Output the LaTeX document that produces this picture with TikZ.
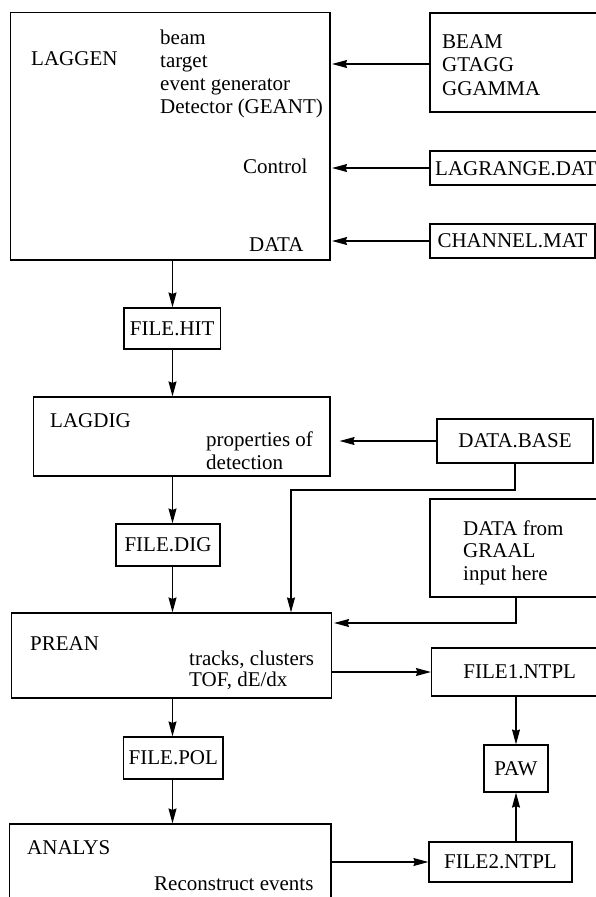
\documentclass[tikz,border=0pt]{standalone}
\usepackage{fontspec}
\setmainfont{Liberation Serif}
\usetikzlibrary{arrows.meta}
\begin{document}
\begin{tikzpicture}[x=1pt,y=-1pt,
  box/.style={draw, line width=1.2pt, inner sep=0pt, font=\fontsize{21}{23}\selectfont},
  lbl/.style={anchor=base west, inner sep=0pt, font=\fontsize{21}{23}\selectfont},
  arr/.style={line width=1.2pt, -{Stealth[length=15pt,width=8pt,inset=1.5pt]}}]
\clip (0,0) rectangle (596,897);
% boxes
\node[box, minimum width=319.4pt, minimum height=247.7pt] (laggen) at (170.3,136.15) {};
\node[box, minimum width=210pt, minimum height=99pt] (beambox) at (535,62.5) {};
\node[box, minimum width=210pt, minimum height=34pt] (lagrange) at (535,168) {};
\node[box, minimum width=165pt, minimum height=34pt] (channel) at (512.5,241) {CHANNEL.MAT};
\node[box, minimum width=96.5pt, minimum height=41pt] (filehit) at (172.25,328.5) {FILE.HIT};
\node[box, minimum width=296.5pt, minimum height=79pt] (lagdig) at (181.75,436.5) {};
\node[box, minimum width=156pt, minimum height=44pt] (database) at (515,441) {DATA.BASE};
\node[box, minimum width=104pt, minimum height=42pt] (filedig) at (168,545) {FILE.DIG};
\node[box, minimum width=172pt, minimum height=98pt] (graal) at (516,548) {};
\node[box, minimum width=320.1pt, minimum height=85pt] (prean) at (171.45,655.5) {};
\node[box, minimum width=176.5pt, minimum height=48pt] (file1) at (519.75,672) {FILE1.NTPL};
\node[box, minimum width=64pt, minimum height=47pt] (paw) at (516,768.5) {PAW};
\node[box, minimum width=99.4pt, minimum height=42pt] (filepol) at (173.3,758) {FILE.POL};
\node[box, minimum width=321.5pt, minimum height=106pt] (analys) at (170.25,877) {};
\node[box, minimum width=143pt, minimum height=40pt] (file2) at (500.5,862) {FILE2.NTPL};
% texts
\node[lbl] (tlaggen) at (31,65.7) {LAGGEN};
\node[lbl] (tbeam) at (160,44) {beam};
\node[lbl] (ttarget) at (160,67) {target};
\node[lbl] (tevent) at (160,90) {event generator};
\node[lbl] (tdet) at (160,113) {Detector (GEANT)};
\node[lbl] (tcontrol) at (243,173.3) {Control};
\node[lbl] (tdata) at (249,251.7) {DATA};
\node[lbl] (tB1) at (442,48.3) {BEAM};
\node[lbl] (tB2) at (442,71.7) {GTAGG};
\node[lbl] (tB3) at (442,95) {GGAMMA};
\node[lbl] (tlagr) at (435,175) {LAGRANGE.DAT};
\node[lbl] (tlagdig) at (50,427.3) {LAGDIG};
\node[lbl] (tprop) at (206,446) {properties of};
\node[lbl] (tdetect) at (206,469) {detection};
\node[lbl] (tg1) at (463,535) {DATA from};
\node[lbl] (tg2) at (463,557.5) {GRAAL};
\node[lbl] (tg3) at (463,580) {input here};
\node[lbl] (tprean) at (30,650) {PREAN};
\node[lbl] (ttracks) at (189,665) {tracks, clusters};
\node[lbl] (ttof) at (189,686.7) {TOF, dE/dx};
\node[lbl] (tanalys) at (27,854) {ANALYS};
\node[lbl] (trec) at (154,890.7) {Reconstruct events};
% connectors
\coordinate (col) at (172.5,0);
\draw[arr, shorten >=1.5pt] (beambox.west |- 0,64) -- (laggen.east |- 0,64);
\draw[arr, shorten >=1.5pt] (lagrange.west) -- (lagrange.west -| laggen.east);
\draw[arr, shorten >=1.5pt] (channel.west) -- (channel.west -| laggen.east);
\draw[arr, shorten >=9pt] (database.west) -- (database.west -| lagdig.east);
\draw[arr] (laggen.south -| col) -- (filehit.north -| col);
\draw[arr] (filehit.south -| col) -- (lagdig.north -| col);
\draw[arr] (lagdig.south -| col) -- (filedig.north -| col);
\draw[arr] (filedig.south -| col) -- (prean.north -| col);
\draw[arr] (prean.south -| col) -- (filepol.north -| col);
\draw[arr] (filepol.south -| col) -- (analys.north -| col);
\coordinate (j1) at (291,490);
\draw[arr] (database.south) |- (j1) -- (j1 |- prean.north);
\coordinate (j2) at (516,623);
\draw[arr, shorten >=2pt] (graal.south) -- (j2) -- (j2 -| prean.east);
\draw[arr] (prean.east |- file1.west) -- (file1.west);
\draw[arr] (file1.south -| paw) -- (paw.north);
\draw[arr] (file2.north -| paw) -- (paw.south);
\draw[arr] (analys.east |- file2.west) -- (file2.west);
\end{tikzpicture}
\end{document}
